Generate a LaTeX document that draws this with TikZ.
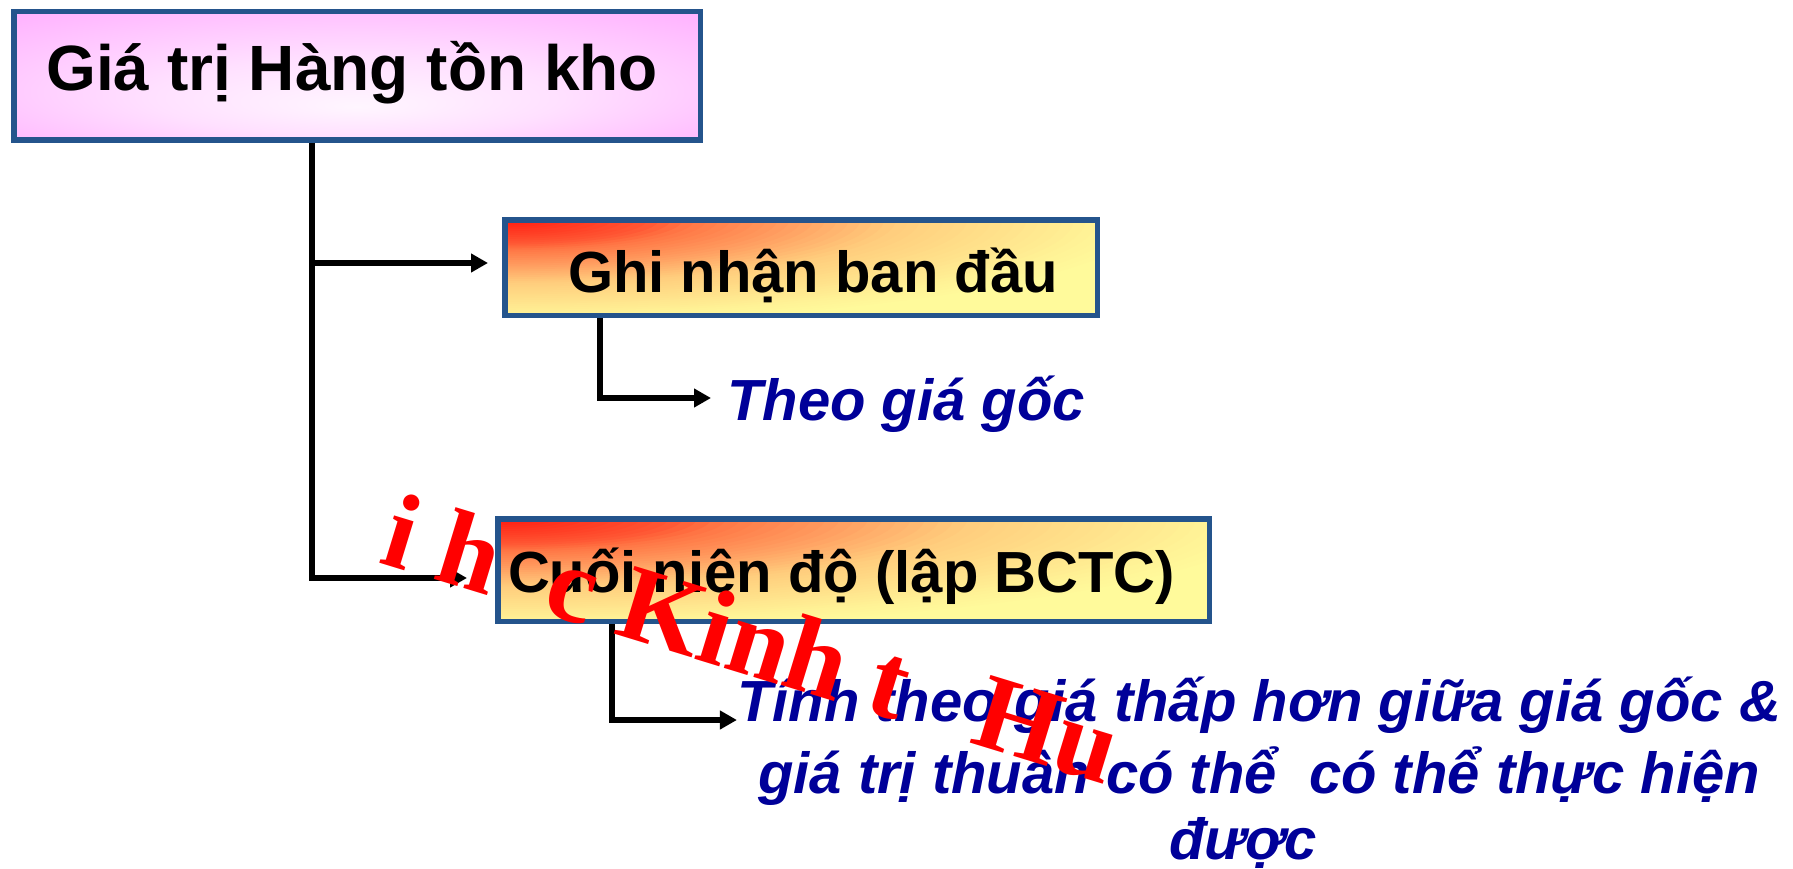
\documentclass[tikz,border=0pt]{standalone}
\usepackage{fontspec}
\setmainfont{Liberation Sans}
\newfontfamily\markfont{Liberation Serif}
\usetikzlibrary{arrows.meta}

% palette
\definecolor{boxblue}{RGB}{36,84,140}
\definecolor{textblue}{RGB}{0,0,153}
\definecolor{markred}{RGB}{255,0,0}
\definecolor{glowA}{RGB}{255,246,255}
\definecolor{glowB}{RGB}{255,224,255}
\definecolor{glowC}{RGB}{255,182,255}
\definecolor{glowD}{RGB}{255,153,255}
\definecolor{fireA}{RGB}{255,25,15}
\definecolor{fireB}{RGB}{255,85,50}
\definecolor{fireC}{RGB}{255,120,70}
\definecolor{fireD}{RGB}{255,160,98}
\definecolor{fireE}{RGB}{255,205,125}
\definecolor{fireF}{RGB}{255,242,150}
\definecolor{fireG}{RGB}{255,250,155}

% soft pink glow, brightest a little below the middle
\pgfdeclareradialshading{pinkglow}{\pgfpoint{0bp}{-12bp}}{%
  color(0bp)=(glowA); color(15bp)=(glowB); color(35bp)=(glowC); color(48bp)=(glowD)}

% colour of the fire ramp at relative distance #1 from the top left corner
\newcommand\firemix[1]{%
  \pgfmathsetmacro\fd{#1}%
  \ifdim\fd pt<0.25pt
    \pgfmathsetmacro\fp{100*(0.25-\fd)/0.25}\colorlet{firetmp}{fireA!\fp!fireB}%
  \else\ifdim\fd pt<0.33pt
    \pgfmathsetmacro\fp{100*(0.33-\fd)/0.08}\colorlet{firetmp}{fireB!\fp!fireC}%
  \else\ifdim\fd pt<0.5pt
    \pgfmathsetmacro\fp{100*(0.5-\fd)/0.17}\colorlet{firetmp}{fireC!\fp!fireD}%
  \else\ifdim\fd pt<0.67pt
    \pgfmathsetmacro\fp{100*(0.67-\fd)/0.17}\colorlet{firetmp}{fireD!\fp!fireE}%
  \else\ifdim\fd pt<1pt
    \pgfmathsetmacro\fp{100*(1-\fd)/0.33}\colorlet{firetmp}{fireE!\fp!fireF}%
  \else
    \pgfmathsetmacro\fp{max(0,100*(1.1-\fd)/0.1)}\colorlet{firetmp}{fireF!\fp!fireG}%
  \fi\fi\fi\fi\fi}

\tikzset{
  titlebox/.style={draw=boxblue, line width=5.5pt, shading=pinkglow,
    inner xsep=0pt, inner ysep=0pt, font=\bfseries\fontsize{64}{70}\selectfont},
  % #1, #2: width and height of the box outline
  stagebox/.style 2 args={draw=boxblue, line width=5.5pt, fill=fireG,
    minimum width=#1, minimum height=#2,
    inner xsep=0pt, inner ysep=0pt, font=\bfseries\fontsize{58}{64}\selectfont,
    path picture={
      \foreach \k in {0,...,54}{
        \pgfmathsetmacro\rr{1.1-\k*0.02}
        \firemix{\rr}
        \fill[firetmp] (path picture bounding box.north west)
          ellipse [x radius={\rr*#1}, y radius={\rr*#2}];
      }
    }},
  rule/.style={inner sep=0pt, text=textblue,
    font=\bfseries\itshape\fontsize{58}{64}\selectfont},
  link/.style={draw=black, line width=5.5pt,
    -{Triangle[length=17pt,width=18pt]}},
  watermark/.style={inner sep=0pt, text=markred,
    font=\markfont\bfseries\fontsize{108}{108}\selectfont}
}

\begin{document}
\begin{tikzpicture}[x=1pt,y=-1pt]
\useasboundingbox (0,0) rectangle (1793,869);

% boxes
\node[titlebox, minimum width=686.5pt, minimum height=128.5pt,
      text height=45pt, text depth=15pt] (stock) at (357,76)
  {Giá trị Hàng tồn kho\hspace*{10pt}};
\node[stagebox={592.5pt}{95.5pt}, text height=55pt, text depth=6pt]
  (initial) at (801,267.5) {\hspace*{24pt}Ghi nhận ban đầu};
\node[stagebox={711.5pt}{102.5pt}, text height=50pt, text depth=6pt]
  (yearend) at (853.5,570) {Cuối niên độ (lập BCTC)\hspace*{24pt}};

% measurement rules
\node[rule, anchor=base west] (cost) at (727,420) {Theo giá gốc};
\node[rule, anchor=base] (lowA) at (1259,721) {Tính theo giá thấp hơn giữa giá gốc \&};
\node[rule, anchor=base] (lowB) at (1259,793) {giá trị thuần có thể\ \ có thể thực hiện};
\node[rule, anchor=base] (lowC) at (1243,859) {được};

% connectors
\coordinate (trunk) at ([xshift=-45pt]stock.south);
\coordinate (initialIn) at ([yshift=4.5pt]initial.west);
\coordinate (yearendIn) at ([yshift=-8pt]yearend.west);
\draw[link, shorten >=28pt] (trunk) |- (yearendIn);
\draw[link, shorten >=14pt] (trunk |- initialIn) -- (initialIn);

\coordinate (initialDrop) at ([xshift=-201pt]initial.south);
\coordinate (costIn) at ([yshift=22pt]cost.base west);
\draw[link, shorten >=16pt] (initialDrop) |- (costIn);

\coordinate (yearendDrop) at ([xshift=-241.5pt]yearend.south);
\coordinate (lowIn) at ([yshift=1pt]lowA.base west);
\draw[link] (yearendDrop) |- (lowIn);

% overprinted mark
\node[watermark, rotate=-17, anchor=base west] (mark) at (377,562)
  {i h\hspace{0.5em}c Kinh t\hspace{0.444em} Hu};
\end{tikzpicture}
\end{document}
